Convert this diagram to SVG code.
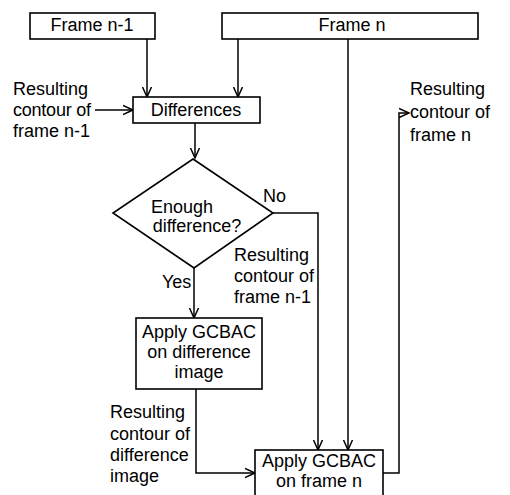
<svg xmlns="http://www.w3.org/2000/svg" width="510" height="495" viewBox="0 0 510 495">
<style>
text{font-family:"Liberation Sans",Arial,sans-serif;font-size:18px;fill:#000}
.c{text-anchor:middle}
.box{fill:#fff;stroke:#000;stroke-width:1.6}
.ln{fill:none;stroke:#000;stroke-width:1.5}
</style>
<defs>
<marker id="ah" markerWidth="12" markerHeight="12" refX="10" refY="6" orient="auto" markerUnits="userSpaceOnUse">
<path d="M0,1.5 L10,6 L0,10.5" fill="none" stroke="#000" stroke-width="1.5"/>
</marker>
</defs>
<rect width="510" height="495" fill="#fff"/>
<g id="connectors">
<path class="ln" d="M147,39 V97" marker-end="url(#ah)"/>
<path class="ln" d="M238,39 V97" marker-end="url(#ah)"/>
<path class="ln" d="M95,110 H133" marker-end="url(#ah)"/>
<path class="ln" d="M195,123 V158" marker-end="url(#ah)"/>
<path class="ln" d="M273,213 H318 V450" marker-end="url(#ah)"/>
<path class="ln" d="M348,39 V450" marker-end="url(#ah)"/>
<path class="ln" d="M194,268 V318" marker-end="url(#ah)"/>
<path class="ln" d="M196,389 V473 H255" marker-end="url(#ah)"/>
<path class="ln" d="M383,473 H399 V113 H409" marker-end="url(#ah)"/>
</g>
<g id="frame-n-1">
<rect class="box" x="30" y="13" width="125" height="26"/>
<text class="c" x="92" y="31">Frame n-1</text>
</g>
<g id="frame-n">
<rect class="box" x="222" y="13" width="256" height="26"/>
<text class="c" x="352" y="31">Frame n</text>
</g>
<g id="differences">
<rect class="box" x="133" y="97" width="127" height="26"/>
<text class="c" x="196" y="116">Differences</text>
</g>
<g id="decision">
<polygon class="box" points="193,159 273,213 194,268 113,213"/>
<text class="c" x="182" y="213">Enough</text>
<text class="c" x="197" y="232">difference?</text>
</g>
<g id="apply-diff">
<rect class="box" x="136" y="318" width="126" height="71"/>
<text class="c" x="199" y="338">Apply GCBAC</text>
<text class="c" x="199" y="358">on difference</text>
<text class="c" x="199" y="378">image</text>
</g>
<g id="apply-frame">
<rect class="box" x="255" y="450" width="128" height="50"/>
<text class="c" x="319" y="467">Apply GCBAC</text>
<text class="c" x="319" y="487">on frame n</text>
</g>
<g id="labels">
<text x="13" y="95">Resulting</text>
<text x="13" y="116" textLength="78">contour of</text>
<text x="13" y="137">frame n-1</text>
<text x="263" y="202">No</text>
<text x="162" y="288">Yes</text>
<text x="234" y="261">Resulting</text>
<text x="234" y="282">contour of</text>
<text x="234" y="303">frame n-1</text>
<text x="110" y="418">Resulting</text>
<text x="110" y="440">contour of</text>
<text x="110" y="461">difference</text>
<text x="110" y="482">image</text>
<text x="410" y="95">Resulting</text>
<text x="410" y="118">contour of</text>
<text x="410" y="141">frame n</text>
</g>
</svg>
